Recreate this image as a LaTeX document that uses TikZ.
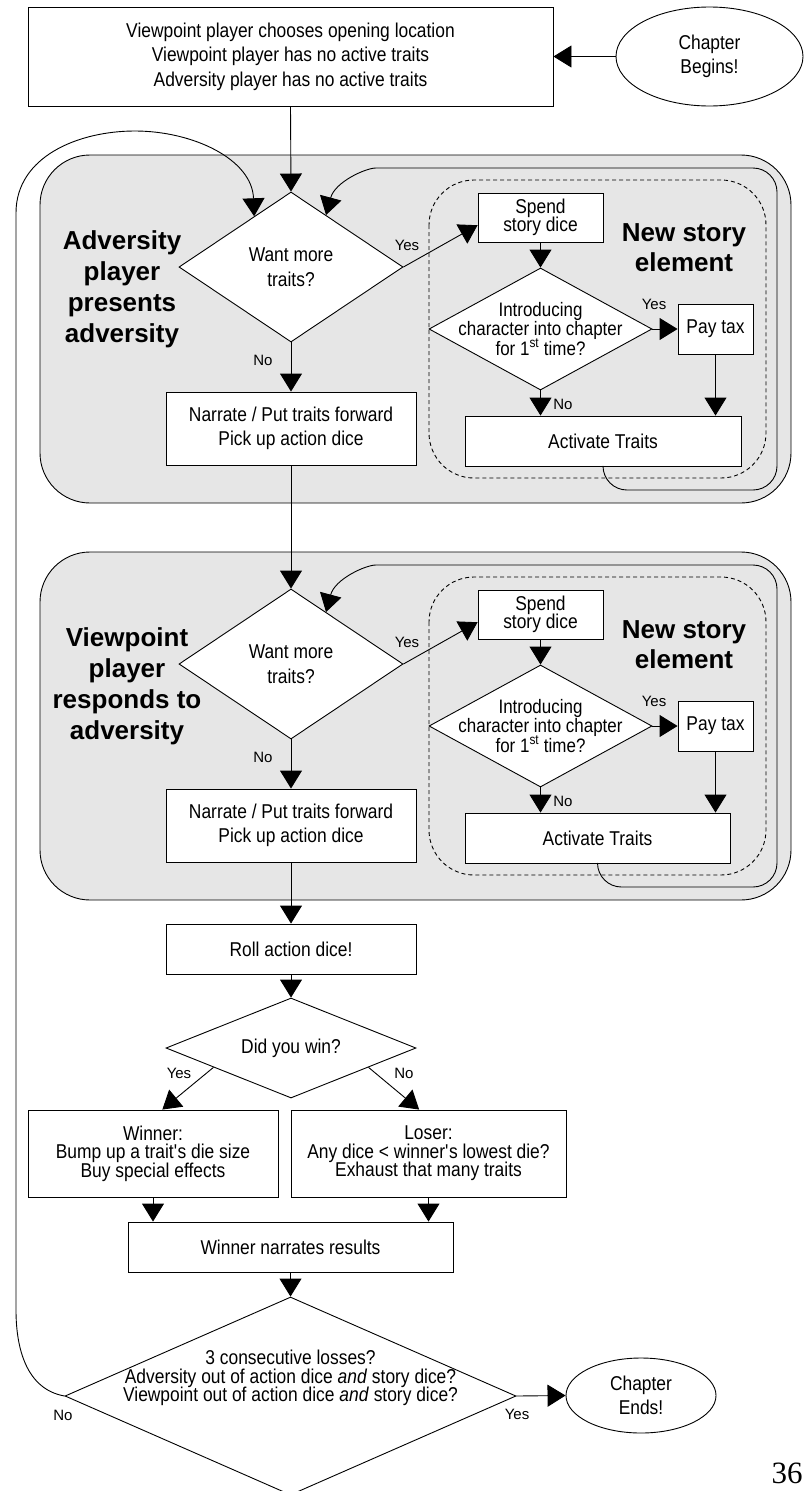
\documentclass[tikz,border=0pt]{standalone}
\usepackage{fontspec}
\setmainfont{Liberation Sans}[FakeStretch=0.87]
\newfontfamily\plainsans{Liberation Sans}
\newfontfamily\pagefont{Liberation Serif}
\usetikzlibrary{arrows.meta,shapes.geometric}
\definecolor{panelgray}{HTML}{E6E6E6}
\setlength{\lineskiplimit}{-50pt}
\tikzset{
  arr/.style={-{Triangle[length=18pt,width=22pt]}},
  boxtext/.style={align=center, font=\fontsize{20}{24.5}\selectfont},
  tight/.style={font=\fontsize{20}{18.5}\selectfont},
  introtext/.style={font=\fontsize{19.5}{19.5}\selectfont},
  textbox/.style={draw, fill=white, inner sep=0pt, boxtext},
  choice/.style={diamond, draw, fill=white, inner sep=0pt},
  choicetext/.style={inner sep=0pt, boxtext},
  endpoint/.style={ellipse, draw, fill=white, inner sep=0pt, boxtext},
  heading/.style={align=center, inner sep=0pt, font=\plainsans\bfseries\fontsize{26}{31}\selectfont},
  answer/.style={inner sep=0pt, font=\plainsans\fontsize{15}{18}\selectfont},
  panel/.style={draw, fill=panelgray, rounded corners=50pt},
  storyzone/.style={draw, dash pattern=on 4pt off 3pt, rounded corners=45pt},
}
\begin{document}
\begin{tikzpicture}[x=1pt, y=1pt, line width=0.9pt]
  \useasboundingbox (0,0) rectangle (808,-1491);
  % shaded turns
  \draw[panel] (40,-155) rectangle (791,-503);
  \draw[panel] (40,-552) rectangle (791,-900);
  \draw[storyzone] (429,-180) rectangle (766,-478);
  \draw[storyzone] (429,-577) rectangle (766,-875);

  \node[textbox, minimum width=525pt, minimum height=99pt] (setup) at (290.5,-56.5)
    {Viewpoint player chooses opening location\\Viewpoint player has no active traits\\Adversity player has no active traits};
  \node[endpoint, minimum width=187pt, minimum height=99pt] (begins) at (709.5,-56.5) {Chapter\\Begins!};

  % adversity turn
  \node[heading] (advhead) at (122,-289) {Adversity\\player\\presents\\adversity};
  \node[choice, minimum width=224pt, minimum height=150pt,
    label={[choicetext]center:Want more\\traits?}] (want1) at (291,-267) {};
  \node[textbox, tight, minimum width=125pt, minimum height=49pt] (spend1) at (540.5,-217.5) {Spend\\story dice};
  \node[heading, font=\plainsans\bfseries\fontsize{26}{30}\selectfont] (story1) at (684,-247.5) {New story\\element};
  \node[choice, minimum width=223pt, minimum height=122pt,
    label={[choicetext, introtext]center:Introducing\\character into chapter\\for 1\textsuperscript{st} time?}] (intro1) at (540.5,-329) {};
  \node[textbox, minimum width=75pt, minimum height=50pt] (pay1) at (715.5,-329) {Pay tax};
  \node[textbox, minimum width=276pt, minimum height=50pt] (act1) at (603,-441) {Activate Traits};
  \node[textbox, minimum width=250pt, minimum height=73pt] (narr1) at (291,-428.5) {Narrate / Put traits forward\\Pick up action dice};
  \node[answer] (yes1) at (407,-245) {Yes};
  \node[answer] (no1) at (263,-360) {No};
  \node[answer] (yes2) at (654,-304) {Yes};
  \node[answer] (no2) at (563,-404) {No};

  % viewpoint turn
  \node[heading] (viewhead) at (127,-686) {Viewpoint\\player\\responds to\\adversity};
  \node[choice, minimum width=224pt, minimum height=150pt,
    label={[choicetext]center:Want more\\traits?}] (want2) at (291,-664) {};
  \node[textbox, tight, minimum width=125pt, minimum height=49pt] (spend2) at (540.5,-614.5) {Spend\\story dice};
  \node[heading, font=\plainsans\bfseries\fontsize{26}{30}\selectfont] (story2) at (684,-644.5) {New story\\element};
  \node[choice, minimum width=223pt, minimum height=122pt,
    label={[choicetext, introtext]center:Introducing\\character into chapter\\for 1\textsuperscript{st} time?}] (intro2) at (540.5,-726) {};
  \node[textbox, minimum width=75pt, minimum height=50pt] (pay2) at (715.5,-726) {Pay tax};
  \node[textbox, minimum width=265pt, minimum height=50pt] (act2) at (597.5,-838) {Activate Traits};
  \node[textbox, minimum width=250pt, minimum height=73pt] (narr2) at (291,-825.5) {Narrate / Put traits forward\\Pick up action dice};
  \node[answer] (yes3) at (407,-642) {Yes};
  \node[answer] (no3) at (263,-757) {No};
  \node[answer] (yes4) at (654,-701) {Yes};
  \node[answer] (no4) at (563,-801) {No};

  % resolution
  \node[textbox, minimum width=250pt, minimum height=50pt] (roll) at (291,-949) {Roll action dice!};
  \node[choice, minimum width=250pt, minimum height=100pt,
    label={[choicetext]center:Did you win?}] (win) at (291,-1048) {};
  \node[textbox, tight, minimum width=250pt, minimum height=87pt] (winner) at (153,-1153.5)
    {Winner:\\Bump up a trait\textquotesingle s die size\\Buy special effects};
  \node[textbox, tight, minimum width=275pt, minimum height=87pt] (loser) at (428.5,-1153.5)
    {Loser:\\Any dice < winner\textquotesingle s lowest die?\\Exhaust that many traits};
  \node[textbox, minimum width=325pt, minimum height=50pt] (narrates) at (290.5,-1247) {Winner narrates results};
  \node[choice, minimum width=451pt, minimum height=198pt,
    label={[choicetext, tight, yshift=18pt]center:3 consecutive losses?\\Adversity out of action dice \emph{and} story dice?\\Viewpoint out of action dice \emph{and} story dice?}] (final) at (290.5,-1396) {};
  \node[endpoint, minimum width=150pt, minimum height=75pt] (ends) at (641,-1395.5) {Chapter\\Ends!};
  \node[answer] (yes5) at (179,-1073) {Yes};
  \node[answer] (no5) at (404,-1073) {No};
  \node[answer] (no6) at (63,-1415) {No};
  \node[answer] (yes6) at (517,-1414) {Yes};
  \node[inner sep=0pt, font=\pagefont\fontsize{31}{36}\selectfont] (pagenum) at (787,-1473) {36};

  % connectors
  \draw[arr] (begins) -- (setup);
  \draw[arr] (setup.south) -- (want1.north);
  \draw[arr] (want1.east) -- (spend1.187);
  \draw[arr] (spend1) -- (intro1);
  \draw[arr] (intro1) -- (pay1);
  \draw[arr] (intro1.south) -- (intro1.south |- act1.north);
  \draw[arr] (pay1.south) -- (pay1.south |- act1.north);
  \draw[arr] (want1.south) -- (narr1.north);
  \draw[arr, rounded corners=24pt] (act1.south) |- (777,-490) -- (777,-168) -- (400,-168)
    to[out=180,in=75] (want1.56);
  \draw[arr] (narr1.south) -- (want2.north);
  \draw[arr] (want2.east) -- (spend2.187);
  \draw[arr] (spend2) -- (intro2);
  \draw[arr] (intro2) -- (pay2);
  \draw[arr] (intro2.south) -- (intro2.south |- act2.north);
  \draw[arr] (pay2.south) -- (pay2.south |- act2.north);
  \draw[arr] (want2.south) -- (narr2.north);
  \draw[arr, rounded corners=24pt] (act2.south) |- (777,-887) -- (777,-565) -- (400,-565)
    to[out=180,in=75] (want2.56);
  \draw[arr] (narr2.south) -- (roll.north);
  \draw[arr] (roll.south) -- (win.north);
  \draw[arr] (win.194) -- (winner.78);
  \draw[arr] (win.346) -- (loser.102);
  \draw[arr] (winner.south) -- (winner.south |- narrates.north);
  \draw[arr] (loser.south) -- (loser.south |- narrates.north);
  \draw[arr] (narrates.south) -- (final.north);
  \draw[arr] (final.east) -- (ends.west);
  \draw[arr] (final.west) to[out=170,in=-90] (16,-1310) -- (16,-213)
    to[out=90,in=180] (135,-131) to[out=0,in=92] (want1.126);
\end{tikzpicture}
\end{document}
